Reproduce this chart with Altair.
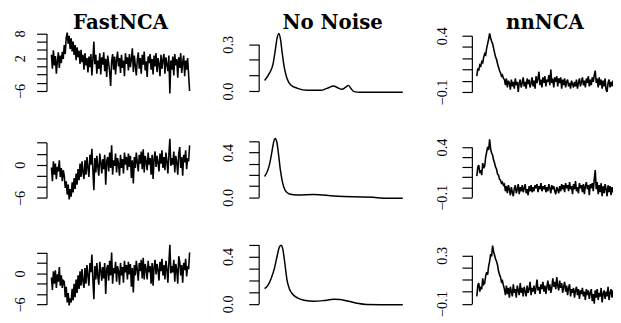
import altair as alt
import pandas as pd

titles = ["FastNCA", "No Noise", "nnNCA"]

# ---- FastNCA (noisy), one value per time point ----
fast_r1 = [2.8, -0.6, 3.9, 0.2, 2.5, -1.8, 1.2, 3.4, -0.4, 2.6, 0.8,
           3.5, 1.8, 5.2, 3.0, 7.0, 8.2, 5.5, 7.4, 4.2, 6.8, 3.6, 6.0, 2.8,
           5.2, 1.5, 4.6, 2.2, 3.8, 0.6, 4.0, 1.0, 2.8, -0.8, 3.2, 0.2, 2.0,
           -1.5, 2.4, -0.2, 3.0, -2.2, 1.6, 6.0, 0.5, 2.8, -1.8,
           1.4, -0.6, 3.2, -2.0, 2.2, 0.4, 3.4, -1.2, 1.8, -2.6,
           2.6, 0.8, -1.4, -4.8, 1.2, 3.0, -0.8, 2.4, -2.0, 1.6,
           3.6, 0.0, 2.0, -1.6, 2.8, -0.4, 1.4, -2.4, 3.2, 0.6,
           2.2, -1.0, 3.0, -0.2, 1.8, 4.4, -1.4, 2.6, 0.2, -2.2,
           1.6, 3.4, -0.6, 2.0, -1.8, 2.8, 0.4, 3.6, -1.0, 1.2,
           -2.6, 2.4, 0.8, 3.0, -0.8, 1.8, -2.0, 2.6, 0.0, 3.2,
           -1.4, 2.0, 0.6, -2.4, 2.8, -0.6, 1.6, 3.0, -1.8, 2.2,
           0.4, -1.2, 2.6, -6.6, 1.4, -0.8, 2.4, -2.2, 3.0, 0.2,
           1.8, -2.8, 2.2, -0.4, 3.2, -1.6, 1.0, 2.6, -2.4, 1.4,
           -0.8, 2.0, -2.0, -6.0]

fast_r2 = [-0.5, -3.0, 0.6, -1.8, 0.2, -2.6, -0.4, -1.2, 0.8, -2.2, -0.6, -3.0, -1.0,
           -2.0, -4.2, -3.0, -5.4, -3.6, -6.3, -4.4, -5.8,
           -3.2, -5.0, -2.4, -4.4, -1.6, -3.6, -0.8, -2.8, 0.2, -2.2, 0.6, -1.4, -2.6,
           0.8, -1.8, 1.4, -0.6, -2.2, 1.8, 0.0, 2.9, -1.0, -4.6,
           1.2, -1.4, 1.6, -0.4, -2.0, 2.0, 0.4, -1.6, 1.0, -0.8,
           1.8, -3.6, 0.6, 1.4, -1.2, 2.2, -0.6, 3.5, -1.8, 0.8,
           -0.2, 2.0, -1.4, 1.2, 0.2, -2.0, 1.8, -0.6, 1.0, -1.6,
           2.2, 0.0, 1.4, -1.0, 2.0, -0.4, 1.6, -2.4, 0.8, -3.4,
           1.4, -0.6, 2.2, 0.4, -1.2, 1.8, 0.2, 2.4, -0.8, 2.8,
           -1.4, 1.6, 0.6, -1.0, 2.2, 0.0, 1.2, -1.8, 1.8, -2.6,
           1.0, 2.4, -0.4, 1.6, 0.4, -1.2, 2.0, 0.2, 2.6, -0.6,
           1.4, -1.0, 2.2, 0.6, -1.6, 1.8, 4.7, -0.2, 1.2, 0.0,
           2.4, -1.4, 1.6, 0.4, -1.8, 2.0, 3.2, -0.6, 1.4, -2.0,
           1.8, 0.4, 2.6, -0.8, 1.2, 0.6, 3.5]

fast_r3 = [-0.8, -3.2, 0.4, -2.0, 0.6, -2.8, -0.2, -1.6, 1.2, -2.4, -0.4, -2.8, -1.4,
           -1.6, -4.6, -2.6, -5.6, -3.8, -6.2, -4.8, -5.6,
           -3.0, -5.2, -2.0, -4.6, -1.2, -3.8, -0.4, -3.0, 0.4, -2.4, 0.8, -1.6, -2.8,
           1.0, -2.0, 1.6, -0.4, -2.4, 2.0, 0.2, 3.6, -1.2, -5.0,
           1.4, -1.2, 2.0, -0.6, -2.2, 2.2, 0.6, -1.4, 1.2, -1.0,
           2.0, -4.0, 0.8, 1.6, -1.4, 2.4, -0.4, 4.0, -2.0, 1.0,
           0.0, 2.2, -1.6, 1.4, 0.4, -2.2, 2.0, -0.4, 1.2, -1.8,
           2.4, 0.2, 1.6, -1.2, 2.2, -0.2, 1.8, -2.6, 1.0, -3.7,
           1.6, -0.4, 2.4, 0.6, -1.4, 2.0, 0.4, 2.6, -1.0, 3.0,
           -1.2, 1.8, 0.8, -1.2, 2.4, 0.2, 1.4, -2.0, 2.0, -2.4,
           1.2, 2.6, -0.2, 1.8, 0.6, -1.4, 2.2, 0.4, 2.8, -0.4,
           1.6, -1.2, 2.4, 0.8, -1.8, 2.0, 5.5, 0.0, 1.4, 0.2,
           2.6, -1.6, 1.8, 0.6, -2.0, 3.3, 2.2, -0.4, 1.6, -1.8,
           2.0, 0.6, 2.8, -0.6, 1.4, 0.8, 4.0]

# ---- No Noise (smooth), time in % of the series ----
nn_t1 = [0, 3.6, 6, 7.6, 9, 10.2, 11.4, 12.6, 14.3, 16.2, 19, 23.8, 31, 40.5,
         45.2, 50, 52.9, 56, 58.8, 60.7, 62.4, 64.8, 69, 83.3, 100]
nn_v1 = [0.068, 0.116, 0.169, 0.254, 0.338, 0.37, 0.338, 0.254, 0.148, 0.08,
         0.038, 0.017, 0.004, 0.004, 0.017, 0.032, 0.021, 0.011, 0.025, 0.036,
         0.017, -0.004, -0.008, -0.008, -0.008]

nn_t2 = [0, 2.4, 4.0, 5.5, 6.7, 7.6, 8.8, 10, 11.4, 13.1, 15, 17.9, 23.8,
         35.7, 50, 64.3, 78.6, 85.7, 100]
nn_v2 = [0.186, 0.245, 0.319, 0.422, 0.502, 0.526, 0.496, 0.393, 0.245, 0.127,
         0.059, 0.03, 0.021, 0.024, 0.012, 0.004, 0.0, -0.008, -0.008]

nn_t3 = [0, 2.4, 4.8, 7.1, 9, 10.5, 11.9, 13.1, 14.8, 16.2, 17.9, 20.2, 23.8,
         28.6, 35.7, 42.9, 50, 54.8, 60.7, 66.7, 73.8, 100]
nn_v3 = [0.128, 0.156, 0.217, 0.3, 0.4, 0.473, 0.495, 0.467, 0.328, 0.203,
         0.128, 0.083, 0.05, 0.031, 0.022, 0.028, 0.039, 0.036, 0.022, 0.006,
         -0.005, -0.008]

# ---- nnNCA (noisy), one value per time point ----
nnnca_r1 = [0.04, 0.11, 0.09, 0.14, 0.13, 0.17, 0.16, 0.21, 0.24, 0.23, 0.29, 0.33, 0.37, 0.42,
            0.38, 0.35, 0.33, 0.29, 0.25, 0.21, 0.19, 0.15, 0.12, 0.09, 0.07, 0.04, 0.05, 0.02,
            0.01, -0.04, 0.02, -0.06, 0.00, -0.02, -0.08, 0.01, -0.05, -0.01,
            -0.07, 0.02, -0.04, -0.01, -0.10, -0.02, 0.01, -0.06, -0.02, 0.03,
            -0.05, -0.01, -0.07, 0.02, -0.03, 0.01, -0.06, -0.02, 0.03, -0.05,
            0.00, -0.07, 0.04, -0.02, 0.02, 0.08, -0.04, 0.01, -0.06, 0.03,
            -0.02, 0.04, -0.05, 0.01, -0.01, 0.05, -0.04, 0.10, -0.02, 0.02,
            -0.06, 0.03, -0.01, 0.04, -0.05, 0.02, -0.02, 0.03, -0.07, 0.01,
            -0.04, 0.02, -0.06, -0.01, 0.01, -0.05, -0.02, -0.07, 0.00, -0.03,
            -0.06, -0.01, -0.05, 0.01, -0.07, -0.02, 0.02, -0.05, -0.01, 0.03,
            -0.04, 0.00, -0.06, 0.02, -0.02, 0.04, -0.05, 0.01, -0.04, 0.03,
            -0.01, 0.05, 0.09, -0.02, 0.02, -0.06, 0.03, -0.04, 0.01, -0.07,
            0.00, -0.05, 0.02, -0.08, -0.10, -0.02, 0.01, -0.06, -0.01, -0.05,
            0.00, -0.07, -0.02]

nnnca_r2 = [0.11, 0.20, 0.22, 0.14, 0.17, 0.12, 0.24, 0.19, 0.21, 0.30, 0.35, 0.40, 0.37, 0.475,
            0.38, 0.34, 0.32, 0.27, 0.24, 0.20, 0.18, 0.13, 0.12, 0.08, 0.07, 0.04, 0.05, 0.02,
            0.03, -0.04, 0.01, -0.06, 0.02, -0.02, -0.08, 0.00, -0.05, -0.09,
            -0.01, 0.02, -0.06, -0.02, 0.03, -0.07, 0.00, -0.04, 0.02, -0.05,
            -0.01, 0.03, -0.06, -0.02, -0.08, 0.01, -0.04, 0.02, -0.05, 0.00,
            -0.04, 0.02, -0.01, 0.03, -0.05, 0.01, -0.02, 0.04, -0.04, 0.01,
            -0.02, 0.02, -0.05, 0.00, -0.04, 0.03, -0.01, -0.06, 0.02, -0.02,
            0.01, -0.04, -0.07, 0.00, -0.02, -0.06, 0.01, -0.04, 0.03, -0.02,
            0.02, -0.05, 0.04, -0.01, 0.02, -0.04, 0.05, -0.02, 0.01, -0.07,
            0.03, -0.02, 0.06, -0.04, 0.00, -0.06, 0.04, -0.01, 0.02, -0.05,
            0.03, -0.07, 0.01, 0.05, -0.02, 0.02, -0.08, 0.03, -0.01, 0.04,
            -0.04, 0.08, 0.17, -0.02, 0.05, -0.07, 0.02, -0.05, 0.04, -0.09,
            0.01, -0.06, 0.03, -0.02, -0.09, 0.02, -0.05, 0.01, -0.08, 0.00,
            -0.05, 0.02, -0.04]

nnnca_r3 = [-0.04, 0.05, 0.07, 0.00, 0.04, 0.02, 0.11, 0.06, 0.07, 0.13, 0.16, 0.14, 0.21, 0.25,
            0.31, 0.29, 0.38, 0.33, 0.30, 0.27, 0.25, 0.22, 0.17, 0.14, 0.12, 0.08, 0.09, 0.05,
            0.02, -0.03, 0.05, -0.02, 0.03, -0.05, 0.04, 0.00, -0.04, 0.06,
            -0.01, 0.02, -0.05, 0.05, 0.01, -0.03, 0.07, -0.01, 0.03, -0.04,
            0.04, 0.00, -0.04, 0.05, -0.01, 0.02, 0.08, -0.03, 0.03, 0.00,
            0.05, -0.02, 0.03, 0.10, 0.01, 0.04, -0.02, 0.06, 0.02, 0.08,
            0.00, 0.05, -0.02, 0.04, 0.09, 0.01, 0.06, -0.01, 0.03, 0.11,
            0.04, 0.08, 0.02, 0.12, 0.05, 0.01, 0.09, 0.03, 0.07, -0.01,
            0.04, 0.08, 0.00, 0.05, -0.03, 0.03, 0.06, -0.04, 0.02, -0.01,
            0.03, -0.05, 0.01, 0.04, -0.03, 0.02, -0.06, 0.01, -0.02, 0.03,
            -0.04, 0.00, -0.07, 0.02, -0.03, 0.01, -0.06, -0.01, 0.02, -0.08,
            -0.02, -0.10, 0.01, -0.05, 0.02, -0.07, -0.01, -0.04, 0.03, -0.09,
            -0.02, 0.01, -0.06, 0.00, -0.04, 0.04, -0.07, -0.01, 0.02, -0.05,
            0.01, -0.06, 0.00]

# ---- axis ticks and which of them carry a label ----
ticks_fast_r1 = [-6, -4, -2, 0, 2, 4, 6, 8]
shown_fast_r1 = [-6, 2, 8]
ticks_fast_r23 = [-6, -4, -2, 0, 2, 4]
shown_fast_r23 = [-6, 0]
ticks_nn_r1 = [0.0, 0.1, 0.2, 0.3]
shown_nn_r1 = [0.0, 0.3]
ticks_nn_r23 = [0.0, 0.1, 0.2, 0.3, 0.4, 0.5]
shown_nn_r23 = [0.0, 0.4]
ticks_nnnca_r12 = [-0.1, 0.0, 0.1, 0.2, 0.3, 0.4]
shown_nnnca_r12 = [-0.1, 0.4]
ticks_nnnca_r3 = [-0.1, 0.0, 0.1, 0.2, 0.3]
shown_nnnca_r3 = [-0.1, 0.3]

M = 8  # page margin: layout below is in page pixels

def panel(values, times, x_px, y_px, ticks, shown, fmt, axis_x, pad, smooth):
    if times is None:
        times = list(range(len(values)))
        xdom = [0, len(values) - 1]
        x_px = [x_px[0], x_px[0] + len(values) - 1]
    else:
        xdom = [0, 100]
    df = pd.DataFrame({"t": times, "v": values})
    mk = dict(color="black", strokeWidth=1.5 if smooth else 1.6,
              strokeJoin="miter", strokeMiterLimit=3)
    if smooth:
        mk["interpolate"] = "monotone"
    expr = " || ".join(f"datum.value == {v}" for v in shown)
    return alt.Chart(df).mark_line(**mk).encode(
        x=alt.X("t:Q", axis=None,
                scale=alt.Scale(domain=xdom, range=[x_px[0] - M, x_px[1] - M],
                                nice=False, zero=False)),
        y=alt.Y("v:Q",
                scale=alt.Scale(domain=[ticks[0], ticks[-1]],
                                range=[y_px[0] - M, y_px[1] - M],
                                nice=False, zero=False),
                axis=alt.Axis(orient="left", offset=-(axis_x - M), values=ticks,
                              format=fmt, labelExpr=f"({expr}) ? datum.label : ''",
                              labelAngle=-90, labelAlign="center",
                              labelBaseline="alphabetic", labelPadding=pad,
                              labelFont="Liberation Serif", labelFontSize=14.5,
                              labelColor="black", labelOverlap=False,
                              labelFlush=False, tickSize=10, tickWidth=1.2,
                              tickColor="black", domainColor="black",
                              domainWidth=1.2, grid=False, title=None)),
    )

layers = [
    panel(fast_r1, None, [52, 0], [90, 31.7], ticks_fast_r1, shown_fast_r1, "d", 47, 12.5, False),
    panel(fast_r2, None, [52, 0], [198.3, 142.3], ticks_fast_r23, shown_fast_r23, "d", 47, 12.5, False),
    panel(fast_r3, None, [52, 0], [306.3, 253.7], ticks_fast_r23, shown_fast_r23, "d", 47, 12.5, False),
    panel(nn_v1, nn_t1, [268, 408], [90, 42.7], ticks_nn_r1, shown_nn_r1, ".1f", 262, 17, True),
    panel(nn_v2, nn_t2, [268, 408], [197.7, 141], ticks_nn_r23, shown_nn_r23, ".1f", 262, 17, True),
    panel(nn_v3, nn_t3, [268, 408], [305.7, 245.7], ticks_nn_r23, shown_nn_r23, ".1f", 262, 17, True),
    panel(nnnca_r1, None, [483, 0], [91, 34], ticks_nnnca_r12, shown_nnnca_r12, ".1f", 478, 16, False),
    panel(nnnca_r2, None, [483, 0], [197.7, 146.7], ticks_nnnca_r12, shown_nnnca_r12, ".1f", 478, 16, False),
    panel(nnnca_r3, None, [483, 0], [305.5, 256.5], ticks_nnnca_r3, shown_nnnca_r3, ".1f", 478, 16, False),
]

title_x = [122, 337, 552]
for name, cx in zip(titles, title_x):
    layers.append(
        alt.Chart(pd.DataFrame({"title": [name]})).mark_text(
            font="DejaVu Serif", fontWeight="bold", fontSize=20, color="black",
            align="center", baseline="alphabetic"
        ).encode(text="title:N", x=alt.value(cx - M), y=alt.value(27 - M))
    )

chart = (
    alt.layer(*layers)
    .resolve_scale(x="independent", y="independent")
    .properties(width=613, height=315, padding=0,
                autosize=alt.AutoSizeParams(type="none"),
                background="white")
    .configure_view(strokeWidth=0)
)

chart.save("out.html", embed_options={"renderer": "svg", "actions": False})
